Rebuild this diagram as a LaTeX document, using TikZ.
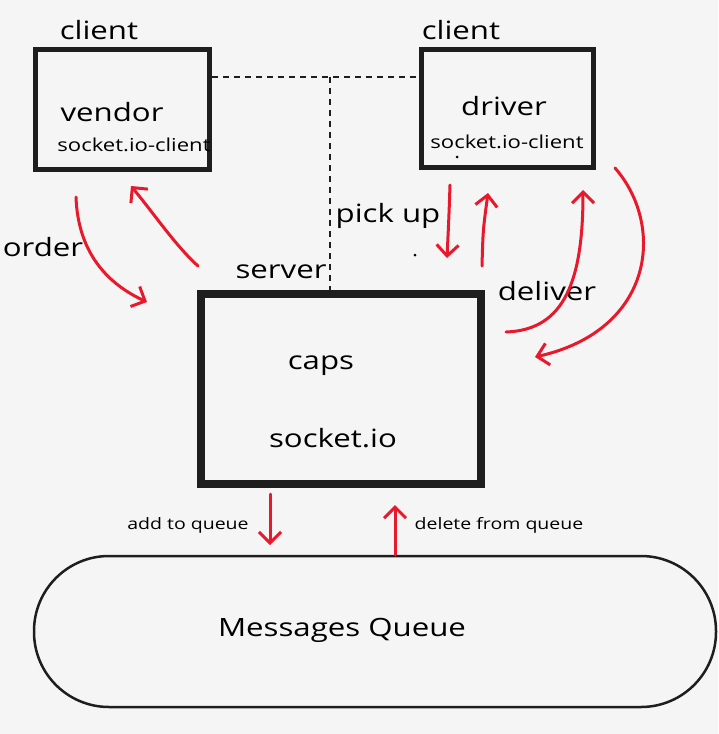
\documentclass[tikz,border=0pt]{standalone}
\usepackage{fontspec}
\setmainfont{Open Sans}
\usetikzlibrary{arrows.meta}
\definecolor{bg}{HTML}{F5F5F5}
\definecolor{ink}{HTML}{1E1E1E}
\definecolor{arr}{HTML}{E8192C}
\newcommand{\hw}[1]{\scalebox{1.3}[1.05]{#1}}
\begin{document}
\begin{tikzpicture}[x=1pt,y=-1pt,
  box/.style={draw=ink,rectangle,inner sep=0pt},
  lbl/.style={inner sep=0pt,text=black,font=\fontsize{24}{28}\selectfont},
  small/.style={inner sep=0pt,text=black,font=\fontsize{17}{20}\selectfont},
  tiny/.style={inner sep=0pt,text=black,font=\fontsize{15}{18}\selectfont},
  redarr/.style={draw=arr,line width=3pt,line cap=round,-{Straight Barb[length=11pt,width=22pt,line width=3pt]}},
  dashline/.style={draw=ink,line width=2pt,dash pattern=on 6pt off 5pt}]
\fill[bg] (0,0) rectangle (718,734);
\useasboundingbox (0,0) rectangle (718,734);

% boxes
\node[box,line width=5pt,minimum width=174pt,minimum height=120pt] (vendor) at (122.5,109.5) {};
\node[box,line width=5pt,minimum width=172pt,minimum height=118pt] (driver) at (507.5,108.5) {};
\node[box,line width=8pt,minimum width=280pt,minimum height=190pt] (server) at (341,389) {};
\node[box,line width=2.5pt,minimum width=682pt,minimum height=151pt,rounded corners=75pt] (queue) at (375,631.5) {};

% texts
\node[lbl] (c1) at (99,30) {\hw{client}};
\node[lbl] (c2) at (461,30) {\hw{client}};
\node[lbl] (vt) at (112,112) {\hw{vendor}};
\node[small] (s1) at (134,145) {\hw{socket.io-client}};
\node[lbl] (dt) at (504,106) {\hw{driver}};
\node[small] (s2) at (507,142) {\hw{socket.io-client}};
\node[lbl] (sv) at (281,272) {\hw{server}};
\node[lbl] (pu) at (388,216) {\hw{pick up}};
\node[lbl] (od) at (43,247) {\hw{order}};
\node[lbl] (dl) at (547,291) {\hw{deliver}};
\node[lbl] (cp) at (321,366) {\hw{caps}};
\node[lbl] (sio) at (333,438) {\hw{socket.io}};
\node[tiny] (aq) at (188,525) {\hw{add to queue}};
\node[tiny] (dq) at (499,525) {\hw{delete from queue}};
\node[lbl] (mq) at (342,630) {\hw{Messages Queue}};

% stray dots
\fill[black] (457,157) circle (1.5pt);
\fill[black] (415,255) circle (1.5pt);

% dashed connectors
\coordinate (j) at (330,77);
\draw[dashline] (vendor.east |- j) -- (driver.west |- j);
\draw[dashline] (j) -- (j |- server.north);

% red arrows
\coordinate (a1s) at (76,197); \coordinate (a1e) at (147,302);
\coordinate (a2s) at (198,266); \coordinate (a2e) at (131,186);
\coordinate (a3s) at (450,185); \coordinate (a3e) at (447,258);
\coordinate (a4s) at (482,266); \coordinate (a4e) at (488,193);
\coordinate (a5s) at (506,332); \coordinate (a5e) at (583,190);
\coordinate (a6s) at (615,168); \coordinate (a6e) at (535,357);
\coordinate (a7s) at (270,494); \coordinate (a7e) at (270,545);
\coordinate (a8s) at (395,555); \coordinate (a8e) at (395,505);
\draw[redarr] (a1s) .. controls (78,255) and (110,285) .. (a1e);
\draw[redarr] (a2s) .. controls (175,245) and (155,215) .. (a2e);
\draw[redarr] (a3s) .. controls (449,215) .. (a3e);
\draw[redarr] (a4s) .. controls (483,230) .. (a4e);
\draw[redarr] (a5s) .. controls (565,330) and (583,280) .. (a5e);
\draw[redarr] (a6s) .. controls (665,225) and (655,330) .. (a6e);
\draw[redarr] (a7s) -- (a7e);
\draw[redarr] (a8s) -- (a8e);
\end{tikzpicture}
\end{document}
